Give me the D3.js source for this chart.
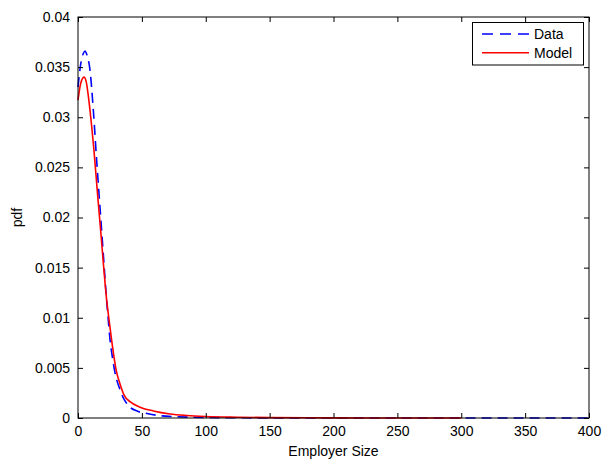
<!DOCTYPE html>
<html>
<head>
<meta charset="utf-8">
<script src="https://cdn.jsdelivr.net/npm/d3@7"></script>
<style>
  body { margin: 0; background: #fff; }
  svg { display: block; font-family: "Liberation Sans", Arial, sans-serif; }
</style>
</head>
<body>
<div id="chart"></div>
<script>
// Data (dashed blue)
const dataX = [0, 2, 4, 5.5, 7, 9.4, 12, 14.6, 17, 20, 22, 23.7, 25, 27, 29, 33, 35.5, 39, 47, 54, 64, 77, 100, 150, 200, 300, 400];
const dataY = [0.0330, 0.0352, 0.0363, 0.0366, 0.0362, 0.0347, 0.0307, 0.0257, 0.0214, 0.0160, 0.0124, 0.0098, 0.0079, 0.0060, 0.0045, 0.0028, 0.0020, 0.0013, 0.00065, 0.00045, 0.00023, 0.00013, 0.00005, 0.00001, 0, 0, 0];
// Model (solid red)
const modelX = [0, 2, 4.7, 6.5, 8.1, 10.7, 12.5, 15, 18, 20, 22.4, 24.3, 26.3, 28.4, 30, 32.9, 36, 41, 48, 59, 72, 85, 100, 125, 150, 200, 250, 300];
const modelY = [0.0317, 0.0333, 0.0340, 0.0335, 0.0321, 0.0291, 0.0267, 0.0228, 0.0183, 0.0152, 0.0118, 0.0098, 0.0078, 0.0059, 0.0047, 0.0034, 0.0023, 0.0016, 0.0011, 0.0007, 0.0004, 0.00025, 0.00015, 0.00008, 0.00004, 0.00001, 0, 0];

const xTicks = [0, 50, 100, 150, 200, 250, 300, 350, 400];
const yTicks = [0, 0.005, 0.01, 0.015, 0.02, 0.025, 0.03, 0.035, 0.04];

const W = 615, H = 466;
const mLeft = 78, mRight = 589, mTop = 17, mBottom = 418;

const svg = d3.select("#chart").append("svg").attr("width", W).attr("height", H);

const x = d3.scaleLinear().domain([0, 400]).range([mLeft, mRight]);
const y = d3.scaleLinear().domain([0, 0.04]).range([mBottom, mTop]);

// 曲線
const line = d3.line().x((d) => x(d[0])).y((d) => y(d[1])).curve(d3.curveMonotoneX);

const g = svg.append("g");
g.append("path")
  .datum(dataX.map((v, i) => [v, dataY[i]]))
  .attr("d", line)
  .attr("fill", "none")
  .attr("stroke", "#0000ff")
  .attr("stroke-width", 1.6)
  .attr("stroke-dasharray", "10,6");

g.append("path")
  .datum(modelX.map((v, i) => [v, modelY[i]]))
  .attr("d", line)
  .attr("fill", "none")
  .attr("stroke", "#ff0000")
  .attr("stroke-width", 1.6);

// 軸 (ticks inward, box)
const fmt = (d) => (d === 0 ? "0" : String(+d.toFixed(3)));
svg.append("g").attr("transform", `translate(0,${mBottom})`)
  .call(d3.axisBottom(x).tickValues(xTicks).tickSizeInner(-5).tickSizeOuter(0).tickPadding(8))
  .call((a) => a.select(".domain").remove());
svg.append("g").attr("transform", `translate(0,${mTop})`)
  .call(d3.axisTop(x).tickValues(xTicks).tickSizeInner(-5).tickSizeOuter(0).tickFormat(""))
  .call((a) => a.select(".domain").remove());
svg.append("g").attr("transform", `translate(${mLeft},0)`)
  .call(d3.axisLeft(y).tickValues(yTicks).tickSizeInner(-5).tickSizeOuter(0).tickPadding(8).tickFormat(fmt))
  .call((a) => a.select(".domain").remove());
svg.append("g").attr("transform", `translate(${mRight},0)`)
  .call(d3.axisRight(y).tickValues(yTicks).tickSizeInner(-5).tickSizeOuter(0).tickFormat(""))
  .call((a) => a.select(".domain").remove());

svg.selectAll(".tick text").attr("font-size", 14).attr("fill", "#000")
  .attr("font-family", "Liberation Sans, Arial, sans-serif");
svg.selectAll(".tick line").attr("stroke", "#000");

svg.append("rect")
  .attr("x", mLeft).attr("y", mTop)
  .attr("width", mRight - mLeft).attr("height", mBottom - mTop)
  .attr("fill", "none").attr("stroke", "#000").attr("stroke-width", 1);

// ラベル
svg.append("text").attr("x", (mLeft + mRight) / 2).attr("y", 456)
  .attr("text-anchor", "middle").attr("font-size", 14).text("Employer Size");
svg.append("text").attr("transform", `translate(22,${(mTop + mBottom) / 2}) rotate(-90)`)
  .attr("text-anchor", "middle").attr("font-size", 14).text("pdf");

// 凡例
const leg = svg.append("g");
leg.append("rect").attr("x", 472.5).attr("y", 22.5).attr("width", 111).attr("height", 42.5)
  .attr("fill", "#fff").attr("stroke", "#000");
const items = [
  { name: "Data", color: "#0000ff", dash: "11,7" },
  { name: "Model", color: "#ff0000", dash: null },
];
items.forEach((it, i) => {
  const yy = 34 + i * 18.7;
  leg.append("line").attr("x1", 482).attr("x2", 529).attr("y1", yy).attr("y2", yy)
    .attr("stroke", it.color).attr("stroke-width", 1.6)
    .attr("stroke-dasharray", it.dash);
  leg.append("text").attr("x", 534).attr("y", yy + 5).attr("font-size", 14).text(it.name);
});
</script>
</body>
</html>
